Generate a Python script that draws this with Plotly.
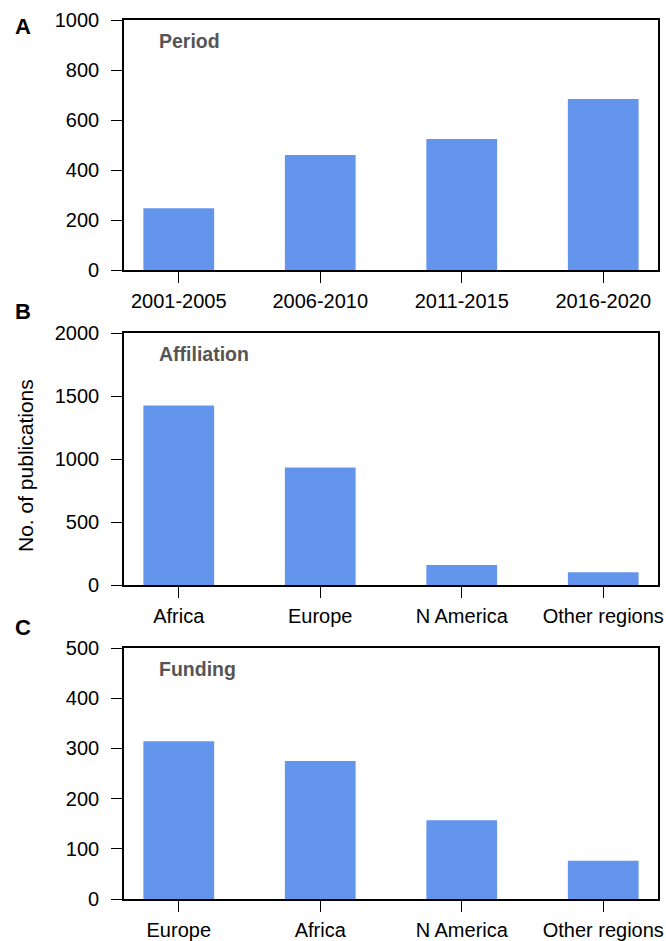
import plotly.graph_objects as go

period_cats = ["2001-2005", "2006-2010", "2011-2015", "2016-2020"]
period_vals = [247, 460, 524, 684]

affil_cats = ["Africa", "Europe", "N America", "Other regions"]
affil_vals = [1425, 932, 159, 101]

fund_cats = ["Europe", "Africa", "N America", "Other regions"]
fund_vals = [314, 275, 157, 76]

panel_titles = ["Period", "Affiliation", "Funding"]
panel_letters = ["A", "B", "C"]
y_ranges = [1000, 2000, 500]
y_dticks = [200, 500, 100]

W, H = 666, 941
BAR = "#6495ED"
FONT = "Liberation Sans, Arial, sans-serif"

fig = go.Figure()

panels = [(period_cats, period_vals), (affil_cats, affil_vals), (fund_cats, fund_vals)]
ypix = [(20, 270), (333, 585), (648, 899)]
x0, x1 = 124, 658

for i, ((cats, vals), (top, bot)) in enumerate(zip(panels, ypix)):
    n = i + 1
    xa = "x" if n == 1 else f"x{n}"
    ya = "y" if n == 1 else f"y{n}"
    fig.add_trace(go.Bar(x=list(range(len(cats))), y=vals, marker_color=BAR,
                         marker_line_width=0, width=0.5, xaxis=xa, yaxis=ya,
                         showlegend=False, hoverinfo="x+y"))
    axis_common = dict(showline=True, linecolor="black", linewidth=1.6, mirror=True,
                       ticks="outside", ticklen=11, tickwidth=1.3, tickcolor="black",
                       showgrid=False, zeroline=False, automargin=False,
                       tickfont=dict(family=FONT, size=20, color="black"))
    xkey = "xaxis" if n == 1 else f"xaxis{n}"
    ykey = "yaxis" if n == 1 else f"yaxis{n}"
    fig.update_layout(**{
        xkey: dict(domain=[x0 / W, x1 / W], anchor=ya,
                   tickmode="array", tickvals=list(range(len(cats))), ticktext=cats,
                   range=[-0.387, 3.387], ticklabelstandoff=1, **axis_common),
        ykey: dict(domain=[1 - bot / H, 1 - top / H], anchor=xa,
                   range=[0, y_ranges[i]], dtick=y_dticks[i], tick0=0,
                   ticklabelstandoff=8, **axis_common),
    })
    # panel inner title
    fig.add_annotation(text=f"<b>{panel_titles[i]}</b>", xref="paper", yref="paper",
                       x=157 / W, y=1 - (top + 21) / H, xanchor="left", yanchor="middle",
                       showarrow=False, font=dict(family=FONT, size=19.5, color="#555555"))
    # panel letter
    fig.add_annotation(text=f"<b>{panel_letters[i]}</b>", xref="paper", yref="paper",
                       x=13 / W, y=1 - (top + 7) / H if i == 0 else 1 - (top - 21) / H,
                       xanchor="left", yanchor="middle",
                       showarrow=False, font=dict(family=FONT, size=22, color="black"))

fig.add_annotation(text="No. of publications", xref="paper", yref="paper",
                   x=25 / W, y=1 - 466 / H, xanchor="center", yanchor="middle",
                   textangle=-90, showarrow=False,
                   font=dict(family=FONT, size=21, color="black"))

fig.update_layout(width=W, height=H, margin=dict(l=0, r=0, t=0, b=0),
                  plot_bgcolor="white", paper_bgcolor="white", bargap=0.5)

fig.write_html("out.html", config={"displayModeBar": False},
               post_script="document.body.style.margin='0';document.body.style.overflow='hidden';")
